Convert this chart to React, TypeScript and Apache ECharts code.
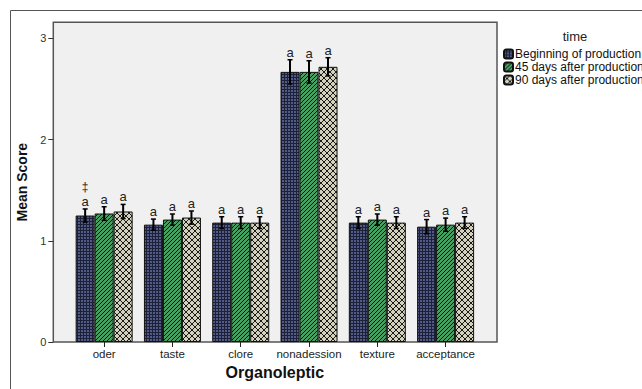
import React, { useEffect, useRef } from "react";
import * as echarts from "echarts";

const CATEGORIES = ["oder", "taste", "clore", "nonadession", "texture", "acceptance"];
const SERIES_NAMES = ["Beginning of production", "45 days after production", "90 days after production"];
const BEGIN = [1.25, 1.16, 1.18, 2.67, 1.18, 1.14];
const DAY45 = [1.27, 1.21, 1.18, 2.67, 1.21, 1.16];
const DAY90 = [1.29, 1.23, 1.18, 2.72, 1.18, 1.18];
const ERR_BEGIN = [0.065, 0.055, 0.058, 0.12, 0.058, 0.07];
const ERR_45 = [0.067, 0.055, 0.058, 0.11, 0.055, 0.065];
const ERR_90 = [0.07, 0.065, 0.058, 0.09, 0.058, 0.058];
const LETTERS_BEGIN = ["a", "a", "a", "a", "a", "a"];
const LETTERS_45 = ["a", "a", "a", "a", "a", "a"];
const LETTERS_90 = ["a", "a", "a", "a", "a", "a"];
const EXTRA_BEGIN = ["‡", "", "", "", "", ""];
const Y_TICKS_MAX = 3.16;

const BAR_W = 19;

function makeCanvas(size: number, bg: string, draw: (ctx: CanvasRenderingContext2D) => void) {
  const c = document.createElement("canvas");
  c.width = size;
  c.height = size;
  const ctx = c.getContext("2d")!;
  ctx.fillStyle = bg;
  ctx.fillRect(0, 0, size, size);
  draw(ctx);
  return c;
}

export default function App() {
  const ref = useRef<HTMLDivElement>(null);
  useEffect(() => {
    if (!ref.current) return;
    const chart = echarts.init(ref.current, null, { renderer: "svg" });

    const p1 = makeCanvas(3, "#1c2139", (ctx) => {
      ctx.fillStyle = "#525b85";
      ctx.fillRect(0, 0, 2, 2);
    });
    const p2 = makeCanvas(4, "#45a062", (ctx) => {
      ctx.fillStyle = "#0b140e";
      for (let y = 0; y < 4; y++) ctx.fillRect(3 - y, y, 1, 1);
    });
    const p3 = makeCanvas(6, "#d3d1bb", (ctx) => {
      ctx.fillStyle = "#1a1a1a";
      for (let i = 0; i < 6; i++) {
        ctx.fillRect(i, i, 1, 1);
        ctx.fillRect(5 - i, i, 1, 1);
      }
    });
    const patterns = [p1, p2, p3].map((img) => ({ image: img, repeat: "repeat" }));

    const values = [BEGIN, DAY45, DAY90];
    const errs = [ERR_BEGIN, ERR_45, ERR_90];
    const letters = [LETTERS_BEGIN, LETTERS_45, LETTERS_90];
    const extras = [EXTRA_BEGIN, ["", "", "", "", "", ""], ["", "", "", "", "", ""]];

    const barSeries = values.map((vals, si) => ({
      type: "bar",
      name: SERIES_NAMES[si],
      xAxisIndex: 0,
      yAxisIndex: 0,
      barWidth: BAR_W,
      barGap: "0%",
      data: vals,
      itemStyle: { color: patterns[si], borderColor: "#111", borderWidth: 1 },
      z: 2,
    }));

    const font = "Liberation Sans, Arial, sans-serif";

    const errSeries = values.map((vals, si) => ({
      type: "custom",
      xAxisIndex: 0,
      yAxisIndex: 0,
      z: 5,
      silent: true,
      data: vals.map((v, i) => [i, v, errs[si][i]]),
      renderItem: (params: any, api: any) => {
        const cat = api.value(0);
        const mean = api.value(1);
        const err = api.value(2);
        const top = api.coord([cat, mean + err]);
        const bot = api.coord([cat, mean - err]);
        const x = top[0] + (si - 1) * BAR_W;
        const children: any[] = [
          { type: "line", shape: { x1: x, y1: top[1], x2: x, y2: bot[1] }, style: { stroke: "#000", lineWidth: 2 } },
          { type: "line", shape: { x1: x - 2.5, y1: top[1], x2: x + 2.5, y2: top[1] }, style: { stroke: "#000", lineWidth: 1.5 } },
          { type: "line", shape: { x1: x - 2.5, y1: bot[1], x2: x + 2.5, y2: bot[1] }, style: { stroke: "#000", lineWidth: 1.5 } },
          {
            type: "text",
            style: {
              text: letters[si][params.dataIndex],
              x: x,
              y: top[1] - 1,
              textAlign: "center",
              textVerticalAlign: "bottom",
              fill: "#222",
              fontSize: 13,
              fontFamily: font,
            },
          },
        ];
        const ex = extras[si][params.dataIndex];
        if (ex) {
          children.push({
            type: "text",
            style: {
              text: ex,
              x: x,
              y: top[1] - 16,
              textAlign: "center",
              textVerticalAlign: "bottom",
              fill: "#222",
              fontSize: 12,
              fontFamily: font,
            },
          });
        }
        return { type: "group", children };
      },
    }));

    chart.setOption({
      animation: false,
      backgroundColor: "#ffffff",
      textStyle: { fontFamily: font },
      grid: [
        { left: 70, right: 162.25, top: 22.3, bottom: 47, show: false, containLabel: false },
        {
          left: 53.3,
          right: 145,
          top: 22.3,
          bottom: 47,
          show: true,
          backgroundColor: "#f0f0f0",
          borderColor: "#555",
          borderWidth: 1.5,
          z: 0,
        },
      ],
      legend: {
        orient: "vertical",
        left: 503,
        top: 48,
        padding: 0,
        itemWidth: 9,
        itemHeight: 9,
        itemGap: 1,
        data: SERIES_NAMES,
        textStyle: { fontSize: 12, lineHeight: 12, color: "#111", fontFamily: font, padding: [0, 0, 0, -3] },
        selectedMode: false,
      },
      graphic: [
        {
          type: "rect",
          shape: { x: 10.5, y: 10.5, width: 700, height: 500 },
          style: { fill: "none", stroke: "#555", lineWidth: 1 },
          z: -10,
        },
        {
          type: "text",
          style: {
            text: "time",
            x: 575,
            y: 36,
            textAlign: "center",
            textVerticalAlign: "middle",
            fill: "#222",
            fontSize: 13,
            fontFamily: font,
          },
        },
      ],
      xAxis: [
        {
          type: "category",
          gridIndex: 0,
          data: CATEGORIES,
          axisLine: { show: false },
          axisTick: { show: true, alignWithLabel: true, length: 5, lineStyle: { color: "#222", width: 1 } },
          axisLabel: { fontSize: 11.5, color: "#222", margin: 6, fontFamily: font, interval: 0 },
          name: "Organoleptic",
          nameLocation: "middle",
          nameGap: 18,
          nameTextStyle: { fontSize: 16, fontWeight: "bold", color: "#111", fontFamily: font },
        },
        { type: "category", gridIndex: 1, show: false, data: CATEGORIES },
      ],
      yAxis: [
        {
          type: "value",
          gridIndex: 0,
          min: 0,
          max: Y_TICKS_MAX,
          interval: 1,
          offset: 16.7,
          axisLine: { show: false },
          axisTick: { show: true, length: 5, lineStyle: { color: "#333", width: 1 } },
          splitLine: { show: false },
          axisLabel: { fontSize: 11, color: "#333", margin: 7, fontFamily: font, showMaxLabel: false, formatter: (v: number) => (Number.isInteger(v) ? String(v) : "") },
          name: "Mean Score",
          nameLocation: "middle",
          nameGap: 15,
          nameTextStyle: { fontSize: 14, fontWeight: "bold", color: "#111", fontFamily: font },
        },
        { type: "value", gridIndex: 1, show: false, min: 0, max: Y_TICKS_MAX },
      ],
      series: [...barSeries, ...errSeries],
    });
    return () => chart.dispose();
  }, []);
  return <div ref={ref} style={{ position: "fixed", left: 0, top: 0, width: 642, height: 389 }} />;
}
